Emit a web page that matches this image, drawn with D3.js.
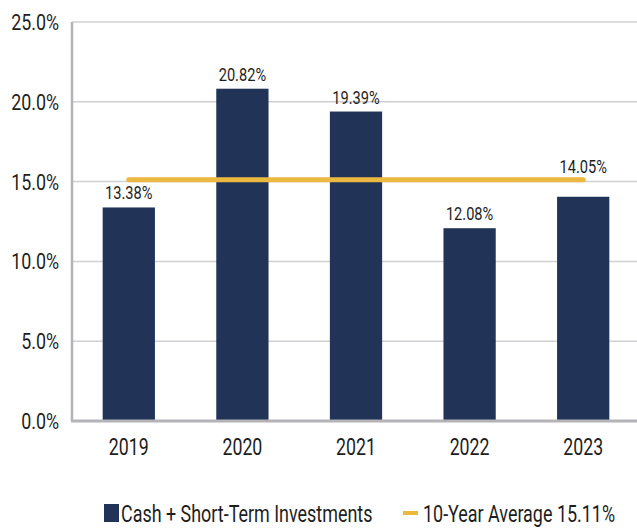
<!DOCTYPE html>
<html>
<head>
<meta charset="utf-8">
<script src="https://cdnjs.cloudflare.com/ajax/libs/d3/7.8.5/d3.min.js"></script>
<style>
  body { margin: 0; background: #fff; }
  #chart text { font-family: Roboto, "Liberation Sans", sans-serif; fill: #1e1e1e; }
  .grid line { stroke: #cfd0d4; stroke-width: 1.5; }
  .bar { fill: #213457; }
  .avg { stroke: #ebb840; stroke-width: 5; stroke-linecap: round; fill: none; }
</style>
</head>
<body>
<div id="chart"></div>
<script>
var years = ["2019", "2020", "2021", "2022", "2023"];
var cashPct = [13.38, 20.82, 19.39, 12.08, 14.05];
var tenYearAvg = 15.11;
var yTicks = [0, 5, 10, 15, 20, 25];
var seriesNames = ["Cash + Short-Term Investments", "10-Year Average 15.11%"];

var width = 637, height = 529;

// squeeze text horizontally (condensed look) by scaling about the origin
function condense(sel, f) {
    sel.each(function() {
        var t = d3.select(this);
        t.attr("x", +t.attr("x") / f).attr("transform", "scale(" + f + ",1)");
    });
}

var svg = d3.select("#chart").append("svg")
    .attr("width", width)
    .attr("height", height);

var x = d3.scaleBand()
    .domain(years)
    .range([72, 640])
    .paddingInner(0.54)
    .paddingOuter(0.27);

var y = d3.scaleLinear()
    .domain([0, 25])
    .range([421, 22]);

// gridlines
svg.append("g")
    .attr("class", "grid")
    .selectAll("line")
    .data(yTicks.filter(function(d) { return d > 0; }))
    .enter().append("line")
    .attr("x1", 72).attr("x2", width)
    .attr("y1", function(d) { return y(d); })
    .attr("y2", function(d) { return y(d); });

// y axis labels
svg.append("g")
    .selectAll("text")
    .data(yTicks)
    .enter().append("text")
    .attr("x", 59)
    .attr("y", function(d) { return y(d); })
    .attr("dy", "0.36em")
    .attr("text-anchor", "end")
    .style("font-size", "22px")
    .text(function(d) { return d.toFixed(1) + "%"; })
    .call(condense, 0.81);

// bars
svg.selectAll(".bar")
    .data(cashPct)
    .enter().append("rect")
    .attr("class", "bar")
    .attr("x", function(d, i) { return x(years[i]); })
    .attr("width", x.bandwidth())
    .attr("y", function(d) { return y(d); })
    .attr("height", function(d) { return y(0) - y(d); });

// axis lines
svg.append("line")
    .attr("x1", 72).attr("x2", 72)
    .attr("y1", 22).attr("y2", 421)
    .attr("stroke", "#b4b4b8").attr("stroke-width", 2.5);
svg.append("line")
    .attr("x1", 71).attr("x2", width)
    .attr("y1", 421).attr("y2", 421)
    .attr("stroke", "#b4b4b8").attr("stroke-width", 3);

// average line
var lineY = y(tenYearAvg);
svg.append("line")
    .attr("class", "avg")
    .attr("x1", x(years[0]) + x.bandwidth() / 2)
    .attr("x2", x(years[years.length - 1]) + x.bandwidth() / 2)
    .attr("y1", lineY).attr("y2", lineY);

// value labels
svg.selectAll(".val")
    .data(cashPct)
    .enter().append("text")
    .attr("class", "val")
    .attr("x", function(d, i) { return x(years[i]) + x.bandwidth() / 2; })
    .attr("y", function(d) {
        var top = y(d);
        // push label above the average line when there's no room below it
        if (top > lineY && top - lineY < 24) return lineY - 7;
        return top - 8;
    })
    .attr("text-anchor", "middle")
    .style("font-size", "18.5px")
    .text(function(d) { return d.toFixed(2) + "%"; })
    .call(condense, 0.79);

// x labels
svg.selectAll(".xl")
    .data(years)
    .enter().append("text")
    .attr("class", "xl")
    .attr("x", function(d) { return x(d) + x.bandwidth() / 2; })
    .attr("y", 455)
    .attr("text-anchor", "middle")
    .style("font-size", "24px")
    .text(function(d) { return d; })
    .call(condense, 0.74);

// legend
var lg = svg.append("g");
lg.append("rect")
    .attr("x", 104).attr("y", 504)
    .attr("width", 15).attr("height", 18)
    .attr("fill", "#213457");
lg.append("text")
    .attr("x", 121).attr("y", 522)
    .style("font-size", "23px")
    .text(seriesNames[0])
    .call(condense, 0.78);
lg.append("line")
    .attr("x1", 403).attr("x2", 418)
    .attr("y1", 513).attr("y2", 513)
    .attr("stroke", "#ebb840").attr("stroke-width", 4);
lg.append("text")
    .attr("x", 423).attr("y", 522)
    .style("font-size", "23px")
    .text(seriesNames[1])
    .call(condense, 0.78);
</script>
</body>
</html>
